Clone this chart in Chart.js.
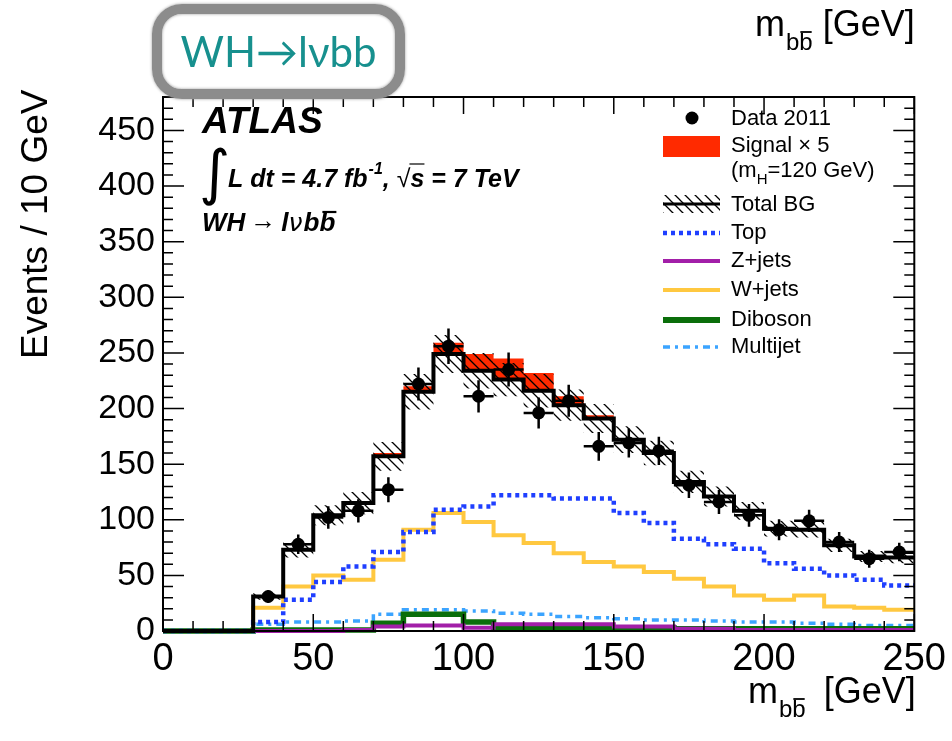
<!DOCTYPE html>
<html>
<head>
<meta charset="utf-8">
<script src="https://cdn.jsdelivr.net/npm/chart.js@4.4.0/dist/chart.umd.min.js"></script>
<style>
  html, body { margin: 0; padding: 0; background: #fff; }
  #wrap { position: relative; width: 952px; height: 741px; overflow: hidden; }
  #chart { position: absolute; left: 0; top: 0; }
  .tag {
    position: absolute; left: 152px; top: 4px; width: 233px; height: 73px;
    border: 10px solid #8c8c8c; border-radius: 30px;
    box-shadow: 0 0 3px #999, inset 0 0 3px #999;
    display: flex; align-items: center; justify-content: center;
    font-family: Lato, "Open Sans", sans-serif; font-size: 42px; color: #17908e;
    padding-bottom: 2px; box-sizing: content-box;
  }
</style>
</head>
<body>
<div id="wrap">
  <canvas id="chart" width="952" height="741"></canvas>
  <div class="tag">WH→lνbb</div>
</div>
<script>
// bins of 10 GeV in m_bb
const binEdges = [0, 10, 20, 30, 40, 50, 60, 70, 80, 90, 100, 110, 120, 130, 140, 150, 160, 170, 180, 190, 200, 210, 220, 230, 240, 250];
const xTicks = [0, 50, 100, 150, 200, 250];
const yTicks = [0, 50, 100, 150, 200, 250, 300, 350, 400, 450];

const dataVals = [0, 0, 0, 31, 78, 102, 108, 127, 222, 256, 211, 235, 196, 207, 166, 169, 162, 131, 116, 104, 91, 99, 80, 65, 71];
const dataErr  = [0, 0, 0, 5.6, 8.8, 10.1, 10.4, 11.3, 14.9, 16, 14.5, 15.3, 14, 14.4, 12.9, 13, 12.7, 11.4, 10.8, 10.2, 9.5, 9.9, 8.9, 8.1, 8.4];
const totalBG  = [0, 0, 0, 31, 73, 104, 115, 157, 215, 249, 234, 226, 216, 203, 191, 172, 160, 134, 121, 108, 92, 91, 77, 67, 66];
const bgErr    = [0, 0, 0, 3, 7, 9, 10, 13, 16, 17, 16, 15, 15, 14, 13, 12, 11, 10, 9, 8, 7, 7, 6, 5, 5];
const signalX5 = [0, 0, 0, 0, 0, 0, 1, 3, 5, 10, 15, 19, 16, 8, 3, 0, 0, 0, 0, 0, 0, 0, 0, 0, 0];
const topBG    = [0, 0, 0, 8, 28, 44, 58, 71, 89, 109, 112, 122, 122, 119, 119, 106, 97, 83, 78, 74, 61, 56, 50, 46, 41];
const wjets    = [0, 0, 0, 21, 40, 50, 46, 64, 91, 106, 98, 86, 79, 70, 62, 58, 53, 47, 40, 32, 28, 32, 22, 21, 19];
const zjets    = [0, 0, 0, 0, 0, 0, 1, 4, 5, 5, 3, 6, 6, 6, 6, 4, 4, 2, 2, 1, 1, 1, 1, 1, 1];
const diboson  = [0, 0, 0, 1, 1, 1, 1, 7, 15, 15, 8, 3, 3, 3, 3, 3, 3, 2, 2, 2, 2, 2, 2, 2, 2];
const multijet = [0, 0, 0, 6, 8, 8, 9, 15, 19, 19, 18, 16, 15, 13, 12, 11, 10, 10, 9, 8, 8, 7, 6, 5, 5];

const FONT = '"Liberation Sans", Arial, Helvetica, sans-serif';

// points at bin edges; with stepped:'before' each bin is drawn flat from its low to its high edge
function stepPoints(vals) {
  const pts = vals.map((v, i) => ({ x: binEdges[i], y: v }));
  pts.push({ x: binEdges[vals.length], y: vals[vals.length - 1] });
  return pts;
}
const sigTop = totalBG.map((v, i) => v + signalX5[i]);
const bandHi = totalBG.map((v, i) => v + bgErr[i]);
const bandLo = totalBG.map((v, i) => v - bgErr[i]);
const dataPts = [];
dataVals.forEach((v, i) => {
  if (v > 0) dataPts.push({ x: (binEdges[i] + binEdges[i + 1]) / 2, y: v, err: dataErr[i], lo: binEdges[i], hi: binEdges[i + 1] });
});

// hatch pattern for the background uncertainty
function makeHatch() {
  const c = document.createElement('canvas');
  c.width = 10; c.height = 10;
  const g = c.getContext('2d');
  g.strokeStyle = '#000'; g.lineWidth = 1.3;
  g.beginPath();
  g.moveTo(-2, -2); g.lineTo(12, 12);
  g.moveTo(-2, 8); g.lineTo(2, 12);
  g.moveTo(8, -2); g.lineTo(12, 2);
  g.stroke();
  return document.getElementById('chart').getContext('2d').createPattern(c, 'repeat');
}
const hatch = makeHatch();

function histLine(label, vals, color, width, dash, order) {
  return {
    label, data: stepPoints(vals), stepped: 'before', borderColor: color, borderWidth: width,
    borderDash: dash || [], pointRadius: 0, fill: false, order, clip: false,
  };
}

const errorBars = {
  id: 'errorBars',
  afterDatasetsDraw(chart) {
    const { ctx, scales: { x, y } } = chart;
    ctx.save();
    ctx.strokeStyle = '#000';
    ctx.lineWidth = 2.5;
    dataPts.forEach(p => {
      const px = x.getPixelForValue(p.x), py = y.getPixelForValue(p.y);
      ctx.beginPath();
      ctx.moveTo(px, y.getPixelForValue(p.y - p.err));
      ctx.lineTo(px, y.getPixelForValue(p.y + p.err));
      ctx.moveTo(x.getPixelForValue(p.lo), py);
      ctx.lineTo(x.getPixelForValue(p.hi), py);
      ctx.stroke();
    });
    ctx.restore();
  }
};

const frame = {
  id: 'frame',
  afterDraw(chart) {
    const { ctx, chartArea: a, scales: { x, y } } = chart;
    ctx.save();
    ctx.strokeStyle = '#000';
    ctx.lineWidth = 1.5;
    ctx.beginPath();
    for (let v = 0; v <= 250; v += 10) {
      const len = v % 50 === 0 ? 17 : 10;
      const px = x.getPixelForValue(v);
      ctx.moveTo(px, a.bottom); ctx.lineTo(px, a.bottom - len);
      ctx.moveTo(px, a.top); ctx.lineTo(px, a.top + len);
    }
    for (let v = 0; v <= 480; v += 10) {
      const len = v % 50 === 0 ? 21 : 10;
      const py = y.getPixelForValue(v);
      ctx.moveTo(a.left, py); ctx.lineTo(a.left + len, py);
      ctx.moveTo(a.right, py); ctx.lineTo(a.right - len, py);
    }
    ctx.stroke();
    ctx.lineWidth = 2;
    ctx.strokeRect(a.left, a.top, a.right - a.left, a.bottom - a.top);
    ctx.restore();
  }
};

function overline(ctx, x0, x1, yy, w) {
  ctx.save();
  ctx.lineWidth = w || 1.5;
  ctx.beginPath(); ctx.moveTo(x0, yy); ctx.lineTo(x1, yy); ctx.stroke();
  ctx.restore();
}

// m_bb [GeV] label with subscript b bbar
function massLabel(ctx, x0, base, gap) {
  ctx.font = '36px ' + FONT;
  ctx.fillText('m', x0, base);
  let cx = x0 + ctx.measureText('m').width + 1;
  ctx.font = '24px ' + FONT;
  ctx.fillText('b', cx, base + 14);
  const bw = ctx.measureText('b').width;
  ctx.fillText('b', cx + bw, base + 14);
  overline(ctx, cx + bw + 1, cx + 2 * bw - 1, base - 4, 1.8);
  cx += 2 * bw + gap;
  ctx.font = '36px ' + FONT;
  ctx.fillText('[GeV]', cx, base);
}

const texts = {
  id: 'texts',
  afterDraw(chart) {
    const ctx = chart.ctx;
    ctx.save();
    ctx.fillStyle = '#000';
    ctx.strokeStyle = '#000';
    ctx.textBaseline = 'alphabetic';
    ctx.textAlign = 'left';

    // axis titles
    massLabel(ctx, 755, 36, 10);
    massLabel(ctx, 748, 703, 18);
    ctx.save();
    ctx.translate(47, 359);
    ctx.rotate(-Math.PI / 2);
    ctx.font = '37px ' + FONT;
    ctx.fillText('Events / 10 GeV', 0, 0);
    ctx.restore();

    // ATLAS label block
    ctx.font = 'italic bold 37px ' + FONT;
    ctx.fillText('ATLAS', 202, 133);
    ctx.font = '60px "DejaVu Sans"';
    ctx.fillText('∫', 199, 193);
    let cx = 228;
    const bi = 'italic bold 25px ' + FONT;
    ctx.font = bi;
    ctx.fillText('L dt = 4.7 fb', cx, 187);
    cx += ctx.measureText('L dt = 4.7 fb').width + 1;
    ctx.font = 'italic bold 16px ' + FONT;
    ctx.fillText('-1', cx, 174);
    cx += ctx.measureText('-1').width;
    ctx.font = bi;
    ctx.fillText(', ', cx, 187);
    cx += ctx.measureText(', ').width;
    ctx.font = '25px ' + FONT;
    ctx.fillText('√', cx, 187);
    cx += ctx.measureText('√').width;
    overline(ctx, cx - 1, cx + 14, 164, 1.2);
    ctx.font = bi;
    ctx.fillText('s = 7 TeV', cx, 187);

    ctx.font = 'italic bold 26px ' + FONT;
    ctx.fillText('WH', 202, 231);
    cx = 202 + ctx.measureText('WH').width + 5;
    ctx.font = '26px ' + FONT;
    ctx.fillText('→', cx, 229);
    cx += ctx.measureText('→').width + 5;
    ctx.font = 'italic bold 26px ' + FONT;
    ctx.fillText('l', cx, 231);
    cx += ctx.measureText('l').width;
    ctx.font = 'italic 25px "DejaVu Sans"';
    ctx.fillText('ν', cx, 231);
    cx += ctx.measureText('ν').width + 1;
    ctx.font = 'italic bold 26px ' + FONT;
    ctx.fillText('b', cx, 231);
    cx += ctx.measureText('b').width;
    ctx.fillText('b', cx, 231);
    overline(ctx, cx + 3, cx + 17, 212, 2.2);

    // legend
    const lx0 = 663, lx1 = 720, tx = 731;
    ctx.font = '22px ' + FONT;
    ctx.textBaseline = 'middle';
    ctx.beginPath(); ctx.arc(692, 118, 6.5, 0, 2 * Math.PI); ctx.fill();
    ctx.fillText('Data 2011', tx, 119);

    ctx.fillStyle = '#ff2a00';
    ctx.fillRect(lx0, 136, lx1 - lx0, 21);
    ctx.fillStyle = '#000';
    ctx.fillText('Signal × 5', tx, 146);
    ctx.fillText('(m', tx, 171);
    let mx = tx + ctx.measureText('(m').width;
    ctx.font = '15px ' + FONT;
    ctx.fillText('H', mx, 180);
    mx += ctx.measureText('H').width;
    ctx.font = '22px ' + FONT;
    ctx.fillText('=120 GeV)', mx, 171);

    ctx.fillStyle = hatch;
    ctx.fillRect(lx0, 195, lx1 - lx0, 18);
    ctx.fillStyle = '#000';
    const legLine = (yy, color, w, dash) => {
      ctx.save();
      ctx.strokeStyle = color; ctx.lineWidth = w; ctx.setLineDash(dash || []);
      ctx.beginPath(); ctx.moveTo(lx0, yy); ctx.lineTo(lx1, yy); ctx.stroke();
      ctx.restore();
    };
    legLine(204, '#000', 3);
    ctx.fillText('Total BG', tx, 205);
    legLine(233, '#1f3fff', 4.5, [4, 4]);
    ctx.fillText('Top', tx, 233);
    legLine(261, '#a21fa8', 4);
    ctx.fillText('Z+jets', tx, 261);
    legLine(290, '#ffc840', 4);
    ctx.fillText('W+jets', tx, 290);
    legLine(320, '#0a6e0a', 6);
    ctx.fillText('Diboson', tx, 320);
    legLine(347, '#3ba4ff', 3.5, [7, 5, 3, 5]);
    ctx.fillText('Multijet', tx, 347);
    ctx.restore();
  }
};

new Chart(document.getElementById('chart'), {
  type: 'line',
  data: {
    datasets: [
      { label: 'Signal x 5', data: stepPoints(sigTop), stepped: 'before', borderWidth: 0, pointRadius: 0,
        backgroundColor: '#ff2a00', fill: { target: 9 }, order: 20 },
      { label: 'band hi', data: stepPoints(bandHi), stepped: 'before', borderWidth: 0, pointRadius: 0,
        backgroundColor: hatch, fill: { target: 2 }, order: 15 },
      { label: 'band lo', data: stepPoints(bandLo), stepped: 'before', borderWidth: 0, pointRadius: 0,
        fill: false, order: 15 },
      histLine('Multijet', multijet, '#3ba4ff', 3.5, [7, 5, 3, 5], 8),
      histLine('Diboson', diboson, '#0a6e0a', 5.5, null, 7),
      histLine('Z+jets', zjets, '#a21fa8', 4, null, 6),
      histLine('W+jets', wjets, '#ffc840', 4, null, 5),
      histLine('Top', topBG, '#1f3fff', 4.5, [4, 4], 4),
      { label: 'Data 2011', type: 'scatter', data: dataPts, pointRadius: 6.5, pointBackgroundColor: '#000',
        pointBorderWidth: 0, showLine: false, order: 1 },
      histLine('Total BG', totalBG, '#000', 4, null, 2),
    ]
  },
  options: {
    responsive: false,
    animation: false,
    devicePixelRatio: 1,
    layout: { padding: { left: 0, right: 32, top: 97, bottom: 0 } },
    plugins: { legend: { display: false }, tooltip: { enabled: false } },
    scales: {
      x: {
        type: 'linear', min: 0, max: 250,
        grid: { display: false, drawTicks: false }, border: { display: false },
        afterBuildTicks: s => { s.ticks = xTicks.map(v => ({ value: v })); },
        afterFit: s => { s.height = 110; },
        ticks: { color: '#000', padding: 6, maxRotation: 0, font: { family: FONT, size: 38 } }
      },
      y: {
        type: 'linear', min: 0, max: 480,
        grid: { display: false, drawTicks: false }, border: { display: false },
        afterBuildTicks: s => { s.ticks = yTicks.map(v => ({ value: v })); },
        afterFit: s => { s.width = 163; },
        ticks: { color: '#000', padding: 8, font: { family: FONT, size: 34 } }
      }
    }
  },
  plugins: [errorBars, frame, texts]
});
</script>
</body>
</html>
